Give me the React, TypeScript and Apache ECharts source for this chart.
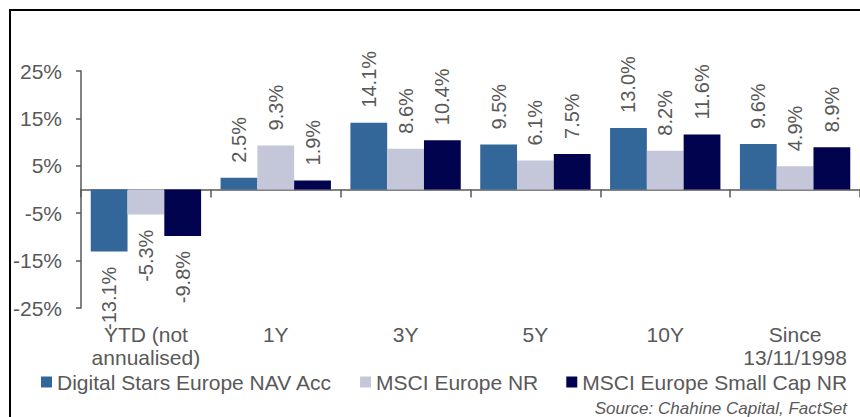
import React, { useEffect, useRef } from 'react';
import * as echarts from 'echarts';

const categories = ['YTD (not\nannualised)', '1Y', '3Y', '5Y', '10Y', 'Since\n13/11/1998'];
const seriesNames = ['Digital Stars Europe NAV Acc', 'MSCI Europe NR', 'MSCI Europe Small Cap NR'];
const digitalStars = [-13.1, 2.5, 14.1, 9.5, 13.0, 9.6];
const msciEurope = [-5.3, 9.3, 8.6, 6.1, 8.2, 4.9];
const msciSmallCap = [-9.8, 1.9, 10.4, 7.5, 11.6, 8.9];
const yTicks = [-25, -15, -5, 5, 15, 25];
const sourceText = 'Source: Chahine Capital, FactSet';

const FONT = '"Liberation Sans", Arial, sans-serif';
const GREY = '#595959';
const COLORS = ['#336699', '#C4C7D9', '#02034F'];

const toData = (arr: number[]) =>
  arr.map((v) => ({
    value: v,
    label: v >= 0 ? { position: 'top', align: 'left' } : { position: 'bottom', align: 'right' },
  }));

export default function App() {
  const ref = useRef<HTMLDivElement>(null);
  useEffect(() => {
    if (!ref.current) return;
    const chart = echarts.init(ref.current, undefined, { renderer: 'svg' });
    const seriesData = [digitalStars, msciEurope, msciSmallCap];
    const option: any = {
      animation: false,
      backgroundColor: '#ffffff',
      grid: { left: 81, top: 71, width: 787, height: 237, containLabel: false },
      legend: {
        left: 41,
        top: 371,
        itemWidth: 11,
        itemHeight: 11,
        itemGap: 28,
        icon: 'rect',
        padding: 0,
        textStyle: { fontSize: 21, lineHeight: 22, color: GREY, fontFamily: FONT },
        data: seriesNames,
      },
      xAxis: [
        {
          type: 'category',
          data: categories,
          position: 'bottom',
          axisLine: { show: true, onZero: true, lineStyle: { color: GREY, width: 1.5 } },
          axisTick: { show: true, length: 8, lineStyle: { color: GREY, width: 1.5 } },
          axisLabel: { show: false },
          splitLine: { show: false },
        },
        {
          type: 'category',
          data: categories,
          position: 'bottom',
          axisLine: { show: false, onZero: false },
          axisTick: { show: false },
          axisLabel: {
            show: true,
            interval: 0,
            margin: 15,
            fontSize: 21,
            lineHeight: 23,
            color: GREY,
            fontFamily: FONT,
          },
          splitLine: { show: false },
        },
      ],
      yAxis: {
        type: 'value',
        min: -25,
        max: 25,
        interval: 5,
        axisLine: { show: true, lineStyle: { color: GREY, width: 1.5 } },
        axisTick: { show: true, length: 5, customValues: yTicks, lineStyle: { color: GREY, width: 1.5 } },
        axisLabel: {
          customValues: yTicks,
          formatter: '{value}%',
          margin: 19,
          fontSize: 21,
          color: GREY,
          fontFamily: FONT,
        },
        splitLine: { show: false },
      },
      series: seriesNames.map((name, i) => ({
        name,
        type: 'bar',
        xAxisIndex: 0,
        data: toData(seriesData[i]),
        barGap: '0%',
        barCategoryGap: '15%',
        itemStyle: { color: COLORS[i] },
        label: {
          show: true,
          rotate: 90,
          verticalAlign: 'middle',
          distance: 15,
          fontSize: 20,
          color: GREY,
          fontFamily: FONT,
          formatter: (p: any) => Number(p.value).toFixed(1) + '%',
        },
      })),
      graphic: [
        {
          type: 'rect',
          shape: { x: 10, y: 10, width: 920, height: 520 },
          style: { fill: 'none', stroke: '#000000', lineWidth: 2 },
          silent: true,
        },
        {
          type: 'text',
          x: 847,
          y: 408,
          style: {
            text: sourceText,
            fill: GREY,
            fontSize: 17,
            fontStyle: 'italic',
            fontFamily: FONT,
            align: 'right',
            verticalAlign: 'middle',
          },
          silent: true,
        },
      ],
    };
    chart.setOption(option);
    return () => chart.dispose();
  }, []);
  return <div ref={ref} style={{ position: 'absolute', left: 0, top: 0, width: 860, height: 417 }} />;
}
